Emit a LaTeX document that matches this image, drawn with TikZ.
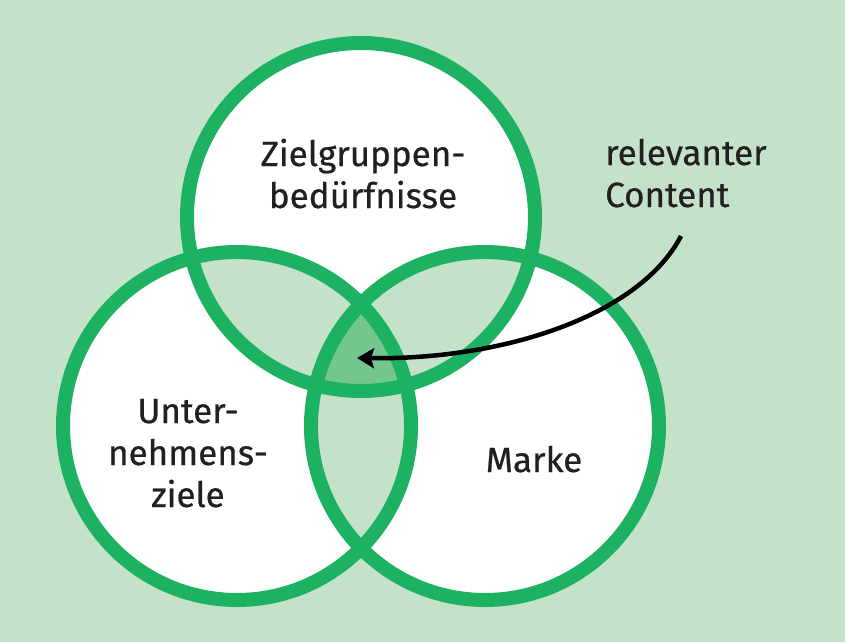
\documentclass[tikz,border=0pt]{standalone}
\usepackage{fontspec}
\setmainfont{Fira Sans}[FakeBold=0.6]
\usetikzlibrary{arrows.meta}
\definecolor{bggreen}{HTML}{C4E2CA}
\definecolor{ringgreen}{HTML}{1DB162}
\definecolor{midgreen}{HTML}{74C68F}
\definecolor{txt}{HTML}{231F20}
\tikzset{
  ring/.style={draw=ringgreen, line width=14pt},
  lbl/.style={text=txt, align=center, font=\fontsize{35}{42}\selectfont, inner sep=0pt, anchor=base},
  pointer/.style={draw=black, line width=4.5pt, -{Stealth[length=17pt,width=20pt,inset=3pt]}}
}
\begin{document}
\begin{tikzpicture}[x=1pt,y=-1pt]
\useasboundingbox (0,0) rectangle (845,642);
\fill[bggreen] (0,0) rectangle (845,642);
\coordinate (T) at (361,217);
\coordinate (L) at (237,426);
\coordinate (R) at (485,426);
\def\rr{174}
% white discs
\fill[white] (T) circle (\rr);
\fill[white] (L) circle (\rr);
\fill[white] (R) circle (\rr);
% pairwise overlaps
\begin{scope}\clip (T) circle (\rr); \fill[bggreen] (L) circle (\rr); \end{scope}
\begin{scope}\clip (T) circle (\rr); \fill[bggreen] (R) circle (\rr); \end{scope}
\begin{scope}\clip (L) circle (\rr); \fill[bggreen] (R) circle (\rr); \end{scope}
% triple overlap
\begin{scope}\clip (T) circle (\rr); \clip (L) circle (\rr); \fill[midgreen] (R) circle (\rr); \end{scope}
% rings
\draw[ring] (T) circle (\rr);
\draw[ring] (L) circle (\rr);
\draw[ring] (R) circle (\rr);
% labels (anchor base = baseline of last line)
\node[lbl] (zg) at (363,208) {Zielgruppen-\\bedürfnisse};
\node[lbl] (uz) at (188,507) {Unter-\\nehmens-\\ziele};
\node[lbl] (mk) at (534,472) {Marke};
\node[lbl, align=left, anchor=base west] (rc) at (605,207) {relevanter\\Content};
% arrow
\coordinate (as) at (681,236);
\coordinate (ae) at (357,358);
\draw[pointer] (as) .. controls (640,315) and (505,360) .. (ae);
\end{tikzpicture}
\end{document}
